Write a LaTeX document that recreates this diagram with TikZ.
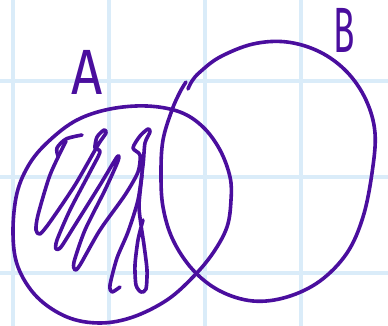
\documentclass[tikz,border=0pt]{standalone}
\usepackage{fontspec}
\usepackage{xcolor}
\usepackage{tikz}
\newfontfamily\handfont{Fira Sans}
\definecolor{InkPurple} {RGB}{ 74, 14, 158}
\definecolor{GridBlue}  {RGB}{218, 236, 249}
\tikzset{
  inkline/.style={draw=InkPurple, line width=3.6pt, line cap=round, line join=round},
  gridline/.style={draw=GridBlue, line width=3.5pt},
  setlabel/.style={text=InkPurple, inner sep=0pt, font=\handfont\fontsize{64}{64}\selectfont}
}
\begin{document}
\begin{tikzpicture}[x=1pt, y=-1pt]
      \fill[white] (0,0) rectangle (388,326);
      \useasboundingbox (0,0) rectangle (388,326);
      % squared paper
      \foreach \gx in {13,109,205,301}
        \draw[gridline] (\gx,0) -- (\gx,326);
      \foreach \gy in {81,177,273}
        \draw[gridline] (0,\gy) -- (388,\gy);
      % set A
      \draw[inkline] plot[smooth cycle, tension=0.6] coordinates {
        (147,106) (180,112) (203,127) (220,150) (230,177) (231,200)
        (227,227) (213,253) (193,277) (167,300) (133,317) (100,323)
        (67,317) (37,297) (18,267) (13,233) (17,193) (30,163)
        (50,140) (77,120) (110,109)};
      % set B (open stroke with a small overlap)
      \draw[inkline] plot[smooth, tension=0.6] coordinates {
        (188,89) (192,81) (200,72) (220,57) (253,44) (287,42)
        (320,52) (347,72) (366,100) (375,133) (372,173) (363,217)
        (347,253) (320,281) (287,297) (253,301) (220,291) (193,270)
        (173,240) (163,207) (161,173) (163,140) (172,110) (180,92)
        (186,82)};
      % shading of A minus B
      \draw[inkline] plot[smooth, tension=0.5] coordinates {
        (82,135) (66,139) (57,148) (58,156)};
      \draw[inkline] plot[smooth, tension=0.45] coordinates {
        (66,141) (50,175) (38,215) (36,230) (40,234) (50,222)
        (75,185) (98,145) (106,133) (104,130) (97,137) (95,148)
        (100,152) (90,172) (70,210) (57,240) (56,249) (61,247)
        (75,225) (100,185) (117,157) (118,161) (105,190) (85,230)
        (74,262) (75,270) (80,265) (100,230) (125,195) (138,172)
        (140,155) (133,148) (140,136) (148,129) (150,132) (145,143)
        (143,165) (138,200) (128,232) (117,258) (110,285) (112,292)
        (120,287)};
      \draw[inkline] plot[smooth, tension=0.45] coordinates {
        (142,175) (139,205) (141,225) (144,245) (147,270) (146,289)
        (141,292) (136,285) (135,265) (138,240) (143,220)};
      % labels
      \node[setlabel, xscale=0.85] (labA) at (87,72) {A};
      \node[setlabel, xscale=0.55] (labB) at (344,30) {B};
\end{tikzpicture}
\end{document}
